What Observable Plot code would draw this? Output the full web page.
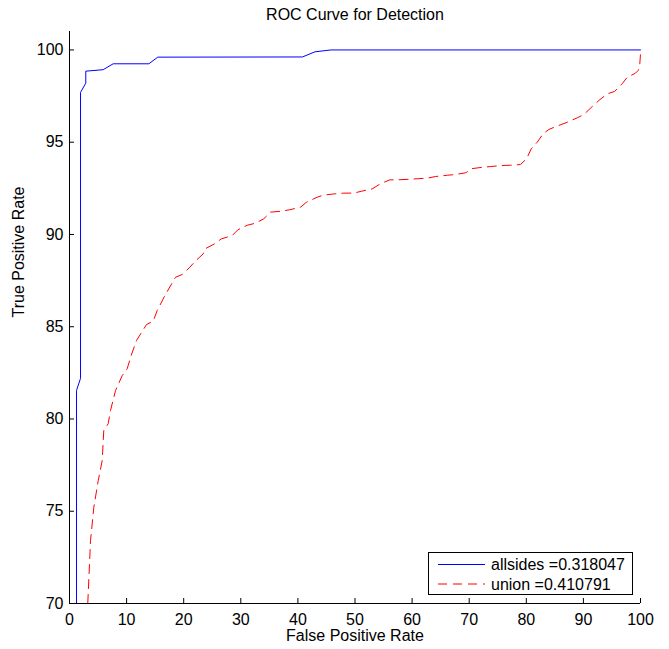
<!DOCTYPE html>
<html><head><meta charset="utf-8">
<script src="https://cdn.jsdelivr.net/npm/d3@7"></script>
<script src="https://cdn.jsdelivr.net/npm/@observablehq/plot@0.6"></script>
<style>
body{margin:0;background:#fff}
#wrap{position:relative;width:669px;height:649px;font-family:"Liberation Sans",Arial,Helvetica,sans-serif}
#legend{position:absolute;left:428px;top:552px;width:203px;height:41px;border:1px solid #000;background:#fff}
#legend svg{display:block}
</style></head><body><div id="wrap"></div>
<script>
const titleText = "ROC Curve for Detection";
const xLabel = "False Positive Rate";
const yLabel = "True Positive Rate";
const xTicks = [0, 10, 20, 30, 40, 50, 60, 70, 80, 90, 100];
const yTicks = [70, 75, 80, 85, 90, 95, 100];
const seriesNames = ["allsides =0.318047", "union =0.410791"];
const seriesColors = ["#0000ff", "#ff0000"];

const allsidesFPR = [1.23, 1.23, 1.93, 1.93, 2.85, 2.85, 5.9, 7.65, 13.9, 15.46, 40.8, 43.0, 45.8, 100];
const allsidesTPR = [70, 81.55, 82.2, 97.7, 98.2, 98.85, 98.93, 99.25, 99.25, 99.61, 99.62, 99.9, 100, 100];

const unionFPR = [3.2, 3.68, 4.26, 5.03, 5.73, 6.0, 6.78, 7.18, 8.06, 9.23, 10.1, 10.8, 11.73, 13.49, 14.66, 15.36, 16.81, 18.56, 19.74, 21.07, 21.95, 23.42, 23.74, 25.39, 26.57, 28.49, 29.47, 31.12, 32.57, 34.03, 35.2, 37.07, 38.58, 40.46, 41.51, 43.38, 44.43, 46.41, 48.04, 49.79, 51.09, 53.01, 54.47, 56.1, 57.39, 59.42, 60.89, 62.64, 64.1, 66.15, 67.6, 69.35, 70.1, 70.53, 72.28, 73.73, 75.78, 77.23, 78.98, 80.04, 80.86, 81.91, 82.96, 83.94, 85.69, 87.16, 88.91, 90.07, 91.54, 92.7, 94.17, 95.45, 96.8, 97.67, 99.12, 99.6, 99.88, 100, 100];
const unionTPR = [70.0, 73.4, 75.22, 76.66, 77.75, 79.37, 79.75, 80.46, 81.54, 82.35, 82.72, 83.44, 84.25, 85.12, 85.3, 85.88, 86.75, 87.68, 87.83, 88.22, 88.53, 88.95, 89.22, 89.49, 89.76, 89.94, 90.25, 90.5, 90.61, 90.85, 91.21, 91.26, 91.34, 91.48, 91.75, 92.02, 92.13, 92.2, 92.24, 92.24, 92.34, 92.47, 92.75, 92.96, 92.96, 92.99, 93.02, 93.05, 93.14, 93.21, 93.25, 93.34, 93.47, 93.57, 93.64, 93.68, 93.74, 93.75, 93.79, 94.1, 94.64, 95.0, 95.46, 95.69, 95.91, 96.08, 96.32, 96.5, 96.93, 97.26, 97.62, 97.75, 98.17, 98.52, 98.74, 98.89, 99.25, 99.79, 100];

const allsides = allsidesFPR.map((x, i) => ({fpr: x, tpr: allsidesTPR[i]}));
const union = unionFPR.map((x, i) => ({fpr: x, tpr: unionTPR[i]}));

const W = 669, H = 649, mL = 69, mR = 29, mT = 31, mB = 46;
const frameW = W - mL - mR, frameH = H - mT - mB, tickLen = 5;
const font = "'Liberation Sans', Arial, Helvetica, sans-serif";

const chart = Plot.plot({
  width: W, height: H,
  marginLeft: mL, marginRight: mR, marginTop: mT, marginBottom: mB,
  style: {fontFamily: font, fontSize: "16px", background: "#fff", color: "#000"},
  x: {domain: [0, 100], axis: null},
  y: {domain: [70, 101], axis: null},
  marks: [
    Plot.line(allsides, {x: "fpr", y: "tpr", stroke: seriesColors[0], strokeWidth: 1}),
    Plot.line(union, {x: "fpr", y: "tpr", stroke: seriesColors[1], strokeWidth: 1, strokeDasharray: "9,6"}),
    Plot.ruleX([0], {stroke: "#000", strokeWidth: 1}),
    Plot.ruleY([70], {stroke: "#000", strokeWidth: 1}),
    Plot.ruleX(xTicks, {x: d => d, insetTop: frameH - tickLen, stroke: "#000"}),
    Plot.ruleY(yTicks, {y: d => d, insetRight: frameW - tickLen, stroke: "#000"}),
    Plot.axisX({ticks: xTicks, tickSize: 0, tickPadding: 10, fontSize: 16, label: null, tickFormat: d => String(d)}),
    Plot.axisY({ticks: yTicks, tickSize: 0, tickPadding: 6, fontSize: 16, label: null, tickFormat: d => String(d)}),
    Plot.text([titleText], {text: d => d, frameAnchor: "top", dy: -23, fontSize: 16}),
    Plot.text([xLabel], {text: d => d, frameAnchor: "bottom", dy: 37, fontSize: 16}),
    Plot.text([yLabel], {text: d => d, frameAnchor: "left", dx: -51, rotate: -90, fontSize: 16})
  ]
});

const wrap = document.getElementById("wrap");
wrap.appendChild(chart);

const legend = document.createElement("div");
legend.id = "legend";
const ns = "http://www.w3.org/2000/svg";
const lsvg = document.createElementNS(ns, "svg");
lsvg.setAttribute("width", 203);
lsvg.setAttribute("height", 41);
seriesNames.forEach((name, i) => {
  const yy = 11.5 + i * 19.5;
  const ln = document.createElementNS(ns, "line");
  ln.setAttribute("x1", 9); ln.setAttribute("x2", 56);
  ln.setAttribute("y1", yy); ln.setAttribute("y2", yy);
  ln.setAttribute("stroke", seriesColors[i]);
  ln.setAttribute("stroke-width", 1);
  if (i === 1) ln.setAttribute("stroke-dasharray", "9,6");
  lsvg.appendChild(ln);
  const tx = document.createElementNS(ns, "text");
  tx.setAttribute("x", 62); tx.setAttribute("y", yy);
  tx.setAttribute("dy", "0.35em");
  tx.setAttribute("font-size", 16);
  tx.setAttribute("font-family", font);
  tx.textContent = name;
  lsvg.appendChild(tx);
});
legend.appendChild(lsvg);
wrap.appendChild(legend);
</script>
</body></html>
